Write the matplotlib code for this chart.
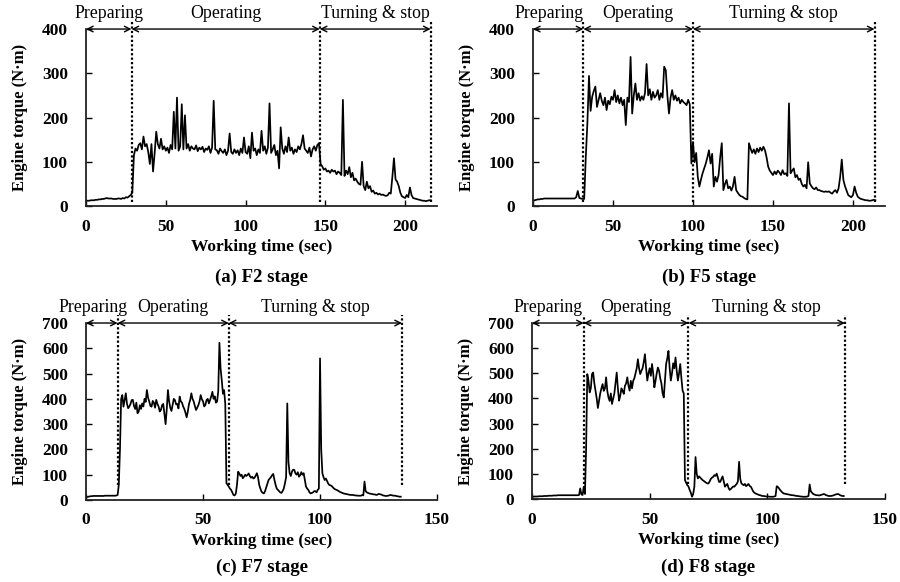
import numpy as np
import matplotlib
matplotlib.use("Agg")
import matplotlib.pyplot as plt

###Engine torque (N·m)
#F2 and F5: one sample per second
torque_f2 = [12, 12, 12, 13, 13, 13, 14, 14, 15, 15,
             16, 16, 17, 18, 17, 17, 17, 16, 16, 16,
             17, 17, 16, 18, 17, 20, 19, 22, 25, 30,
             115, 130, 125, 138, 142, 128, 157, 135, 140, 122,
             95, 140, 78, 120, 168, 140, 130, 152, 128, 135,
             125, 132, 120, 138, 128, 213, 130, 245, 125, 135,
             230, 128, 205, 130, 140, 125, 135, 130, 128, 137,
             124, 132, 128, 134, 122, 130, 127, 135, 120, 132,
             238, 128, 126, 118, 130, 124, 120, 128, 115, 125,
             164, 122, 118, 128, 120, 126, 115, 130, 120, 155,
             122, 118, 135, 108, 166, 125, 130, 115, 128, 120,
             170, 125, 135, 118, 132, 232, 120, 128, 138, 115,
             125, 85, 178, 130, 118, 135, 122, 155, 125, 132,
             118, 128, 122, 135, 128, 140, 160, 130, 125, 120,
             132, 112, 128, 135, 125, 138, 142, 95, 90, 82,
             85, 78, 80, 75, 82, 78, 80, 72, 78, 75,
             70, 240, 68, 80, 72, 88, 65, 75, 58, 62,
             55, 50, 48, 100, 45, 36, 55, 40, 45, 32,
             35, 28, 30, 26, 28, 25, 26, 24, 23, 24,
             30, 28, 66, 108, 60, 55, 45, 30, 22, 20,
             18, 25, 20, 42, 25, 18, 17, 16, 15, 14,
             13, 12, 12, 11, 12, 13, 13]

torque_f5 = [12, 13, 14, 15, 15, 16, 16, 17, 17, 17,
             17, 17, 17, 17, 17, 17, 17, 17, 17, 17,
             17, 17, 17, 17, 17, 17, 17, 20, 34, 18,
             17, 16, 16, 110, 187, 294, 215, 247, 260, 270,
             224, 240, 255, 238, 228, 245, 217, 238, 230, 247,
             240, 262, 235, 250, 232, 245, 228, 240, 183, 245,
             235, 337, 209, 250, 277, 240, 255, 238, 248, 240,
             255, 321, 250, 264, 240, 258, 245, 250, 262, 240,
             255, 245, 315, 307, 250, 209, 245, 262, 240, 250,
             238, 245, 232, 240, 235, 232, 228, 240, 230, 96,
             145, 99, 120, 66, 44, 60, 74, 85, 96, 110,
             126, 96, 118, 44, 66, 55, 70, 110, 142, 36,
             50, 59, 40, 44, 35, 45, 66, 36, 30, 25,
             22, 21, 18, 16, 15, 142, 130, 120, 128, 118,
             130, 122, 132, 125, 134, 126, 110, 89, 80, 75,
             70, 78, 72, 80, 76, 70, 81, 72, 74, 68,
             232, 74, 80, 85, 65, 70, 59, 62, 50, 44,
             48, 40, 99, 51, 45, 40, 38, 42, 36, 36,
             34, 33, 32, 33, 32, 33, 30, 28, 33, 36,
             30, 40, 66, 105, 59, 45, 35, 25, 22, 20,
             25, 44, 30, 21, 18, 16, 15, 14, 13, 13,
             12, 12, 13, 14, 13]

#F7 and F8: two samples per second
torque_f7 = [12, 12, 13, 14, 15, 15, 16, 16, 16, 16,
             16, 16, 16, 16, 16, 16, 17, 17, 17, 17,
             17, 17, 17, 17, 17, 17, 18, 20, 60, 200,
             400, 415, 369, 395, 422, 380, 363, 370, 380, 395,
             396, 372, 360, 385, 343, 350, 375, 360, 382, 370,
             400, 388, 435, 405, 390, 372, 369, 392, 385, 365,
             396, 380, 370, 350, 356, 375, 380, 340, 300, 360,
             435, 390, 365, 352, 376, 400, 395, 378, 380, 362,
             409, 390, 385, 370, 360, 345, 327, 350, 380, 395,
             422, 400, 390, 372, 356, 365, 375, 390, 415, 398,
             390, 370, 376, 395, 400, 382, 395, 410, 428, 400,
             410, 385, 389, 430, 622, 520, 474, 420, 435, 380,
             66, 60, 53, 45, 40, 30, 20, 18, 25, 60,
             112, 105, 95, 100, 86, 92, 100, 95, 99, 105,
             95, 88, 92, 85, 88, 96, 106, 90, 60, 45,
             33, 28, 26, 35, 50, 65, 79, 85, 90, 98,
             103, 80, 60, 45, 40, 35, 30, 28, 35, 45,
             66, 90, 382, 150, 106, 95, 112, 120, 119, 105,
             100, 110, 92, 98, 110, 100, 106, 80, 53, 45,
             40, 30, 26, 28, 30, 35, 35, 30, 40, 45,
             560, 200, 106, 90, 79, 85, 75, 65, 59, 58,
             55, 50, 45, 42, 40, 38, 35, 32, 30, 28,
             26, 25, 24, 23, 22, 21, 20, 20, 20, 19,
             18, 18, 17, 17, 17, 17, 20, 18, 73, 35,
             30, 28, 26, 25, 24, 23, 22, 22, 20, 21,
             24, 23, 22, 20, 18, 17, 16, 16, 17, 18,
             20, 19, 18, 17, 17, 16, 15, 14, 13, 13]

torque_f8 = [9, 9, 10, 10, 10, 10, 11, 11, 11, 11,
             12, 12, 12, 12, 13, 13, 13, 13, 14, 14,
             14, 14, 15, 15, 15, 15, 15, 15, 15, 15,
             15, 15, 15, 15, 15, 15, 15, 15, 15, 15,
             16, 42, 18, 16, 49, 20, 200, 497, 471, 424,
             440, 497, 503, 460, 431, 400, 362, 390, 420, 440,
             457, 430, 440, 484, 430, 404, 390, 420, 378, 400,
             420, 460, 503, 440, 391, 410, 440, 430, 418, 450,
             460, 484, 450, 431, 470, 440, 470, 480, 500, 520,
             556, 520, 497, 510, 520, 545, 576, 520, 471, 500,
             520, 490, 537, 500, 444, 470, 500, 523, 510, 480,
             460, 420, 404, 470, 537, 560, 589, 520, 471, 500,
             540, 520, 563, 510, 471, 500, 537, 480, 431, 420,
             75, 65, 55, 50, 36, 25, 9, 20, 49, 167,
             100, 82, 90, 85, 80, 75, 72, 68, 65, 62,
             62, 70, 80, 85, 88, 95, 92, 101, 85, 68,
             68, 80, 90, 70, 49, 55, 60, 45, 36, 40,
             45, 50, 49, 55, 60, 70, 148, 80, 62, 58,
             55, 60, 51, 55, 60, 52, 49, 40, 30, 25,
             22, 20, 18, 16, 15, 13, 12, 12, 11, 10,
             10, 10, 9, 9, 9, 9, 10, 12, 51, 48,
             42, 35, 30, 25, 22, 21, 20, 19, 18, 17,
             16, 15, 15, 14, 13, 12, 12, 11, 10, 10,
             9, 9, 9, 9, 10, 12, 58, 30, 25, 20,
             18, 16, 15, 15, 14, 15, 17, 18, 20, 18,
             15, 14, 12, 12, 12, 13, 14, 16, 18, 19,
             20, 18, 15, 13, 12, 12]

#end of each work stage (sec)
stages_f2 = [28.5, 146.5, 216]
stages_f5 = [31.5, 100, 213.5]
stages_f7 = [13.5, 61, 135]
stages_f8 = [22, 66.5, 133]

stage_names = ["Preparing", "Operating", "Turning & stop"]
panel_titles = ["(a) F2 stage", "(b) F5 stage", "(c) F7 stage", "(d) F8 stage"]

###Figure
plt.rcParams['font.family'] = ['Liberation Serif', 'DejaVu Serif']
fig = plt.figure(figsize=(9, 5.82), dpi=100)

#data, sample step, stages, axes rect, x max, y max, bottom of dotted line,
#shift of the "Preparing" label (pt), height of the caption
panels = [
    (torque_f2, 1.0, stages_f2, [0.0956, 0.646, 0.39, 0.3041], 220, 400, 10, 0, 0.524),
    (torque_f5, 1.0, stages_f5, [0.5922, 0.646, 0.3911, 0.3041], 220, 400, 10, -6.5, 0.524),
    (torque_f7, 0.5, stages_f7, [0.0956, 0.1409, 0.39, 0.3041], 150, 700, 60, -6, 0.025),
    (torque_f8, 0.5, stages_f8, [0.5911, 0.1426, 0.3922, 0.3024], 150, 700, 60, -7, 0.025),
]

for (torque, dt, stages, rect, xmax, ymax, vmin, shift, ycap), title in zip(panels, panel_titles):
    ax = fig.add_axes(rect)
    t = np.arange(len(torque)) * dt
    ax.plot(t, torque, color='black', lw=1.25)

    ax.set_xlim(0, xmax)
    ax.set_ylim(0, ymax)
    ax.set_xticks(np.arange(0, xmax + 1, 50))
    ax.set_yticks(np.arange(0, ymax + 1, 100))
    for side in ['top', 'right']:
        ax.spines[side].set_visible(False)
    for side in ['left', 'bottom']:
        ax.spines[side].set_linewidth(1.3)
        ax.spines[side].set_color('#222222')
    ax.tick_params(direction='in', length=4, width=1, labelsize=12.5)
    ax.tick_params(axis='x', pad=9)
    ax.tick_params(axis='y', pad=13)
    for lbl in ax.get_xticklabels() + ax.get_yticklabels():
        lbl.set_fontweight('bold')

    ax.set_xlabel('Working time (sec)', fontsize=12.5, fontweight='bold')
    ax.set_ylabel('Engine torque (N·m)', fontsize=12, fontweight='bold')
    ax.xaxis.set_label_coords(0.5, -0.185)
    ax.yaxis.set_label_coords(-0.165, 0.5)

    #stage boundaries and arrows
    ax.vlines(stages, vmin, ymax * 1.045, colors='black',
              linestyles=(0, (1, 1)), lw=1.6, clip_on=False)
    edges = [0] + stages
    for k, (a, b, name) in enumerate(zip(edges[:-1], edges[1:], stage_names)):
        ax.annotate('', xy=(b, ymax), xytext=(a, ymax),
                    arrowprops=dict(arrowstyle='<->', lw=1.0, color='black',
                                    shrinkA=0, shrinkB=0),
                    annotation_clip=False)
        dx = shift if k == 0 else 0
        ax.annotate(name, xy=((a + b) / 2, ymax), xytext=(dx, 11),
                    textcoords='offset points', ha='center', va='center',
                    fontsize=12.8, annotation_clip=False)

    fig.text(rect[0] + rect[2] / 2, ycap, title,
             ha='center', va='center', fontsize=13.5, fontweight='bold')

fig.savefig('out.png', dpi=100)
